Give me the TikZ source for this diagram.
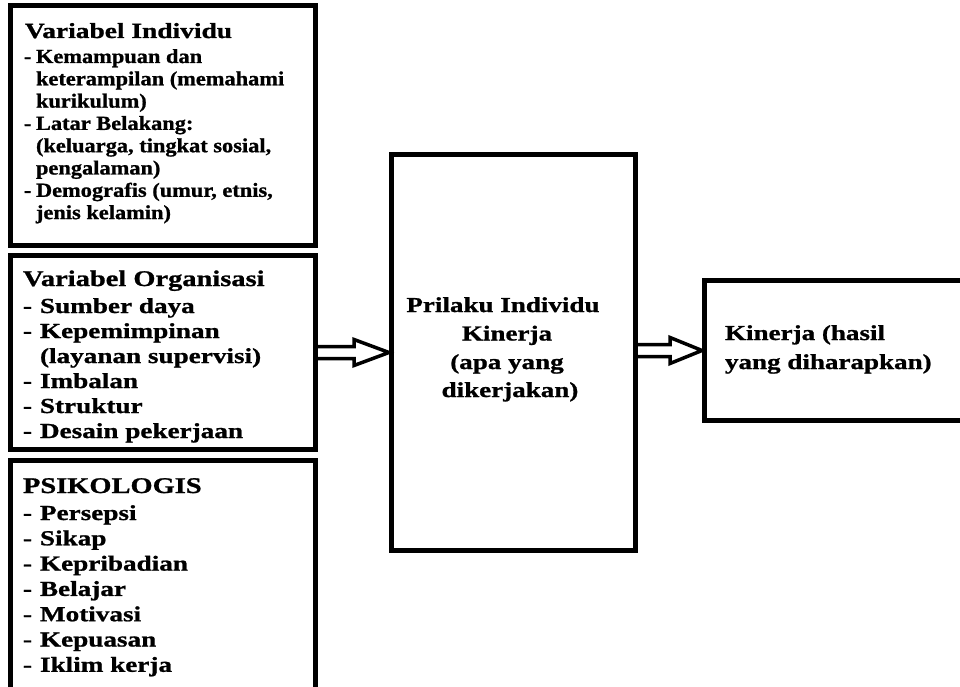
\documentclass[tikz,border=0pt]{standalone}
\usepackage{fontspec}
\setmainfont{Liberation Serif}
\newfontfamily\famWide{Liberation Serif}[FakeStretch=1.27, BoldFeatures={FakeBold=1}]
\newfontfamily\famMid{Liberation Serif}[FakeStretch=1.12, BoldFeatures={FakeBold=1}]
\usetikzlibrary{calc}
\newcommand{\ftHeadA}{\famWide\bfseries\fontsize{21.6}{25}\selectfont}
\newcommand{\ftItemA}{\famMid\bfseries\fontsize{20}{22}\selectfont}
\newcommand{\ftHeadB}{\famWide\bfseries\fontsize{22.4}{25}\selectfont}
\newcommand{\ftItemB}{\famWide\bfseries\fontsize{21.4}{25}\selectfont}
\newcommand{\ftMain}{\famWide\bfseries\fontsize{21.3}{28}\selectfont}
\newcommand{\dashA}{\llap{\makebox[12pt][l]{-}}}
\newcommand{\dashB}{\llap{\makebox[17pt][l]{-}}}
\begin{document}
\begin{tikzpicture}[x=1pt,y=-1pt,
  box/.style={draw=black, line width=5pt, inner sep=0pt, fill=white},
  txt/.style={inner sep=0pt, outer sep=0pt, anchor=base west, text=black},
  ctxt/.style={inner sep=0pt, outer sep=0pt, anchor=base, text=black},
  bigarrow/.style={draw=black, line width=3.5pt, line join=miter}]
\clip (0,0) rectangle (960,687);
\fill[white] (0,0) rectangle (960,687);

% boxes
\node[box, minimum width=305pt, minimum height=240pt] (b1) at (163,125.5) {};
\node[box, minimum width=305pt, minimum height=194pt] (b2) at (163,352.5) {};
\node[box, minimum width=305pt, minimum height=259.5pt] (b3) at (163,590.25) {};
\node[box, minimum width=244pt, minimum height=396pt] (mid) at (513.5,352.5) {};
\node[box, minimum width=275.5pt, minimum height=140pt] (res) at (842.25,350.5) {};

% box 1 text
\node[txt, font=\ftHeadA] (h1) at (25,38) {Variabel Individu};
\node[txt, font=\ftItemA] (a1) at (36,63) {\dashA Kemampuan dan};
\node[txt, font=\ftItemA] (a2) at (36,85.3) {keterampilan (memahami};
\node[txt, font=\ftItemA] (a3) at (36,107.6) {kurikulum)};
\node[txt, font=\ftItemA] (a4) at (36,129.9) {\dashA Latar Belakang:};
\node[txt, font=\ftItemA] (a5) at (36,152.2) {(keluarga, tingkat sosial,};
\node[txt, font=\ftItemA] (a6) at (36,174.5) {pengalaman)};
\node[txt, font=\ftItemA] (a7) at (36,196.8) {\dashA Demografis (umur, etnis,};
\node[txt, font=\ftItemA] (a8) at (36,219.1) {jenis kelamin)};

% box 2 text
\node[txt, font=\ftHeadB] (h2) at (23,286) {Variabel Organisasi};
\node[txt, font=\ftItemB] (o1) at (40,313) {\dashB Sumber daya};
\node[txt, font=\ftItemB] (o2) at (40,338) {\dashB Kepemimpinan};
\node[txt, font=\ftItemB] (o3) at (40,363) {(layanan supervisi)};
\node[txt, font=\ftItemB] (o4) at (40,388) {\dashB Imbalan};
\node[txt, font=\ftItemB] (o5) at (40,413) {\dashB Struktur};
\node[txt, font=\ftItemB] (o6) at (40,438) {\dashB Desain pekerjaan};

% box 3 text
\node[txt, font=\ftHeadB] (h3) at (23,493) {PSIKOLOGIS};
\node[txt, font=\ftItemB] (p1) at (40,520) {\dashB Persepsi};
\node[txt, font=\ftItemB] (p2) at (40,545.3) {\dashB Sikap};
\node[txt, font=\ftItemB] (p3) at (40,570.6) {\dashB Kepribadian};
\node[txt, font=\ftItemB] (p4) at (40,595.9) {\dashB Belajar};
\node[txt, font=\ftItemB] (p5) at (40,621.2) {\dashB Motivasi};
\node[txt, font=\ftItemB] (p6) at (40,646.5) {\dashB Kepuasan};
\node[txt, font=\ftItemB] (p7) at (40,671.8) {\dashB Iklim kerja};

% middle text
\node[ctxt, font=\ftMain] (m1) at (503,312) {Prilaku Individu};
\node[ctxt, font=\ftMain] (m2) at (507,340.5) {Kinerja};
\node[ctxt, font=\ftMain] (m3) at (507,369) {(apa yang};
\node[ctxt, font=\ftMain] (m4) at (510,397) {dikerjakan)};

% result text
\node[txt, font=\ftMain] (r1) at (725,340) {Kinerja (hasil};
\node[txt, font=\ftMain] (r2) at (725,369) {yang diharapkan)};

% hollow arrows
\coordinate (t1) at (mid.west |- b2.east);
\draw[bigarrow] ($(b2.east)+(0,-6)$) -- ($(t1)+(-35,-6)$) -- ($(t1)+(-35,-13)$)
  -- (t1) -- ($(t1)+(-35,13)$) -- ($(t1)+(-35,6)$) -- ($(b2.east)+(0,6)$);
\coordinate (s2) at (mid.east |- res.west);
\draw[bigarrow] ($(s2)+(0,-6)$) -- ($(res.west)+(-32,-6)$) -- ($(res.west)+(-32,-13)$)
  -- (res.west) -- ($(res.west)+(-32,13)$) -- ($(res.west)+(-32,6)$) -- ($(s2)+(0,6)$);
\end{tikzpicture}
\end{document}
